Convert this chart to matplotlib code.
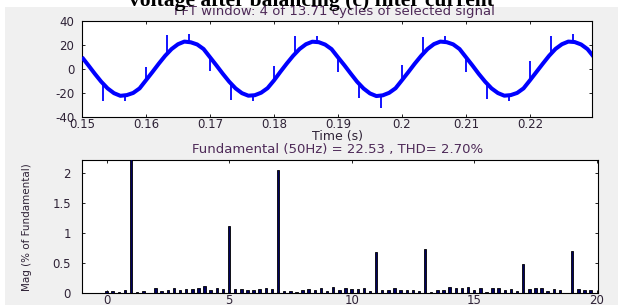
import numpy as np
import matplotlib
matplotlib.use("Agg")
import matplotlib.pyplot as plt
from matplotlib.patches import Rectangle

# ---------------- data ----------------
# time-domain signal (sampled readings, 1 ms step)
t_ms = list(range(150, 231))
v_signal = [
    9.6, 2.8, -4.2, -10.8, -16.4, -20.4, -22.6, -22.0, -20.2, -16.4,
    -9.6, -2.8, 4.2, 10.8, 16.4, 20.4, 22.6, 22.0, 20.2, 16.4,
    9.6, 2.8, -4.2, -10.8, -16.4, -20.4, -22.5, -22.1, -20.0, -16.2,
    -9.8, -2.6, 4.3, 10.8, 16.4, 20.4, 22.5, 22.1, 20.1, 16.3,
    9.5, 2.9, -4.1, -10.9, -16.5, -20.6, -22.8, -22.2, -20.1, -16.3,
    -9.6, -2.8, 4.2, 10.7, 16.4, 20.5, 22.6, 22.1, 20.3, 16.4,
    9.6, 2.8, -4.3, -10.8, -16.4, -20.3, -22.5, -22.0, -20.2, -16.4,
    -9.7, -2.8, 4.1, 10.8, 16.5, 20.4, 22.6, 22.2, 20.2, 16.3,
    9.7,
]
# commutation spikes: time and tip value
spike_t = [0.15333, 0.15667, 0.16, 0.16333, 0.16667, 0.17, 0.17333, 0.17667,
           0.18, 0.18333, 0.18667, 0.19, 0.19333, 0.19667, 0.2, 0.20333,
           0.20667, 0.21, 0.21333, 0.21667, 0.22, 0.22333, 0.22667]
spike_tip = [-26.5, -26.5, 1.5, 28.0, 28.5, -2.0, -26.0, -27.0,
             2.0, 27.0, 27.0, -2.8, -24.5, -33.0, 3.4, 26.0,
             27.0, -2.5, -25.5, -27.0, 6.0, 27.0, 28.5]

# harmonic spectrum (% of fundamental), order step 0.25
orders = np.arange(0, 20, 0.25)
mags = [
    0.03, 0.03, 0.02, 0.05,
    100.0, 0.02, 0.03, 0.01,
    0.08, 0.04, 0.05, 0.08,
    0.06, 0.07, 0.07, 0.08,
    0.12, 0.06, 0.08, 0.07,
    1.12, 0.07, 0.07, 0.06,
    0.05, 0.07, 0.09, 0.07,
    2.05, 0.04, 0.04, 0.02,
    0.06, 0.07, 0.05, 0.08,
    0.03, 0.11, 0.06, 0.08,
    0.07, 0.07, 0.08, 0.03,
    0.68, 0.06, 0.06, 0.09,
    0.05, 0.06, 0.06, 0.03,
    0.74, 0.02, 0.05, 0.06,
    0.11, 0.08, 0.08, 0.11,
    0.05, 0.09, 0.02, 0.08,
    0.08, 0.05, 0.07, 0.04,
    0.49, 0.07, 0.09, 0.08,
    0.03, 0.07, 0.05, 0.01,
    0.70, 0.07, 0.06, 0.06,
]

x1_ticks = [0.15, 0.16, 0.17, 0.18, 0.19, 0.2, 0.21, 0.22]
x1_labels = ["0.15", "0.16", "0.17", "0.18", "0.19", "0.2", "0.21", "0.22"]
y1_ticks = [-40, -20, 0, 20, 40]
y1_labels = ["-40", "-20", "0", "20", "40"]
x2_ticks = [0, 5, 10, 15, 20]
x2_labels = ["0", "5", "10", "15", "20"]
y2_ticks = [0, 0.5, 1, 1.5, 2]
y2_labels = ["0", "0.5", "1", "1.5", "2"]

# ---------------- figure ----------------
W, H = 618, 305
fig = plt.figure(figsize=(W / 100, H / 100), dpi=100)
fig.patch.set_facecolor("white")
fig.add_artist(Rectangle((5 / W, 0), 1 - 5 / W, 1 - 7 / H, transform=fig.transFigure,
                         facecolor="#f0f0f0", edgecolor="none", zorder=-10))

title_col = "#4e2a58"
tick_col = "#2e2236"

fig.text(311 / W, 1 - 6 / H, "voltage after balancing (c) filter current",
         ha="center", va="baseline", fontsize=15.5, fontweight="bold",
         family="Liberation Serif", color="black", zorder=10)

ax1 = fig.add_axes([82 / W, 1 - 116.7 / H, 510 / W, 96 / H])
ax2 = fig.add_axes([82 / W, 1 - 293.3 / H, 515.7 / W, 133.3 / H])

t = np.array(t_ms) / 1000.0
v = np.array(v_signal)
ax1.plot(t, v, color="#0000ff", lw=2.9, solid_capstyle="butt", zorder=3)
base = np.interp(spike_t, t, v)
ax1.vlines(spike_t, base, spike_tip, color="#0000ff", lw=1.3, zorder=3)
ax1.set_xlim(0.15, 0.2297)
ax1.set_ylim(-40, 40)
ax1.set_xticks(x1_ticks, x1_labels)
ax1.set_yticks(y1_ticks, y1_labels)

ax2.bar(orders, mags, width=0.1, color="#000060", edgecolor="black", linewidth=0.6, zorder=3)
ax2.set_xlim(-1, 20.04)
ax2.set_ylim(0, 2.22)
ax2.set_xticks(x2_ticks, x2_labels)
ax2.set_yticks(y2_ticks, y2_labels)

for ax in (ax1, ax2):
    ax.set_facecolor("white")
    for s in ax.spines.values():
        s.set_linewidth(0.8)
        s.set_color("black")
    ax.tick_params(direction="in", top=True, right=True, length=2.5, width=0.6,
                   labelsize=8.5, labelcolor=tick_col)

ax1.tick_params(axis="y", pad=5.5)
ax1.tick_params(axis="x", pad=0.8)
ax2.tick_params(axis="y", pad=8)
ax2.tick_params(axis="x", pad=0.3)

fig.text(334.5 / W, 1 - 11.5 / H, "FFT window: 4 of 13.71 cycles of selected signal",
         ha="center", va="center", fontsize=9.5, color=title_col)
fig.text(337 / W, 1 - 136.5 / H, "Time (s)", ha="center", va="center",
         fontsize=9, color=tick_col)
fig.text(337.5 / W, 1 - 150 / H, "Fundamental (50Hz) = 22.53 , THD= 2.70%",
         ha="center", va="center", fontsize=9.5, color=title_col)
fig.text(27 / W, 1 - 227 / H, "Mag (% of Fundamental)", rotation=90,
         ha="center", va="center", fontsize=7.5, color=tick_col,
         family=["Liberation Sans Narrow", "DejaVu Sans"])

fig.savefig("out.png", dpi=100, facecolor=fig.get_facecolor())
